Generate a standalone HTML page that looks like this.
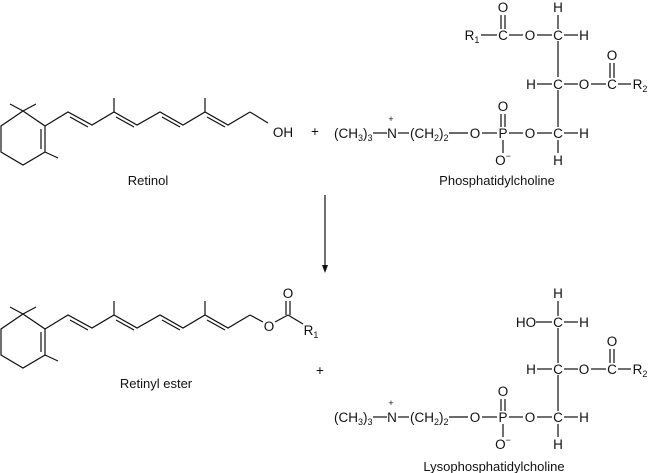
<!DOCTYPE html>
<html><head><meta charset="utf-8"><style>
html,body{margin:0;padding:0;background:#fff;}
svg{display:block;}
text{font-family:"Liberation Sans",sans-serif;fill:#111;}
.a{font-size:13.5px;text-anchor:middle;}
.s{font-size:13.5px;}
.l{font-size:13px;text-anchor:middle;}
line,polyline,polygon{stroke:#111;stroke-width:1.2;fill:none;}
</style></head><body>
<svg width="650" height="473" viewBox="0 0 650 473" xmlns="http://www.w3.org/2000/svg">
<defs>
<g id="ret">
<polygon points="23,111 45,126 45,152 23,165 1,152 1,126"/>
<line x1="23" y1="111" x2="10" y2="104"/><line x1="23" y1="111" x2="36" y2="104"/>
<line x1="45" y1="152" x2="58" y2="158"/>
<line x1="41" y1="129" x2="41" y2="149"/>
<polyline points="45,126 68,112 92,125 114,112 137,125 160,112 183,125 205,112 228,125 250,112"/>
<line x1="114" y1="112" x2="114" y2="98"/><line x1="205" y1="112" x2="205" y2="98"/>
<line x1="70" y1="117" x2="88" y2="127"/>
<line x1="116" y1="117" x2="134" y2="127"/>
<line x1="162" y1="117" x2="180" y2="127"/>
<line x1="207" y1="117" x2="225" y2="127"/>
</g>
<g id="chol">
<text class="s" x="334" y="5">(CH<tspan font-size="9" dy="3">3</tspan><tspan dy="-3">)</tspan><tspan font-size="9" dy="3">3</tspan></text>
<line x1="373" y1="0" x2="387" y2="0"/>
<text class="a" x="392" y="5">N</text>
<text x="391" y="-11" style="font-size:9px;text-anchor:middle">+</text>
<line x1="398" y1="0" x2="409" y2="0"/>
<text class="s" x="410" y="5">(CH<tspan font-size="9" dy="3">2</tspan><tspan dy="-3">)</tspan><tspan font-size="9" dy="3">2</tspan></text>
<line x1="449" y1="0" x2="468" y2="0"/>
<text class="a" x="475" y="5">O</text>
<line x1="482" y1="0" x2="497" y2="0"/>
<text class="a" x="503" y="5">P</text>
<line x1="503" y1="7" x2="503" y2="20"/>
<text class="a" x="503" y="32">O<tspan font-size="9" dy="-6">−</tspan></text>
<line x1="509" y1="0" x2="523" y2="0"/>
<text class="a" x="530" y="5">O</text>
<line x1="537" y1="0" x2="552" y2="0"/>
<text class="a" x="558" y="5">C</text>
<line x1="564" y1="0" x2="578" y2="0"/>
<text class="a" x="584" y="5">H</text>
<line x1="558" y1="7" x2="558" y2="20"/>
<text class="a" x="558" y="32">H</text>
</g>
</defs>
<!-- Retinol -->
<use href="#ret"/>
<line x1="250" y1="112" x2="268" y2="123"/>
<text class="a" x="283" y="137">OH</text>
<text class="a" x="315" y="136">+</text>
<text class="l" x="148" y="185">Retinol</text>

<!-- Phosphatidylcholine -->
<text class="a" x="472" y="40">R<tspan font-size="9" dy="3">1</tspan></text>
<line x1="481" y1="35" x2="497" y2="35"/>
<text class="a" x="503" y="40">C</text>
<text class="a" x="503" y="12">O</text>
<line x1="501" y1="15" x2="501" y2="29"/><line x1="505" y1="15" x2="505" y2="29"/>
<line x1="509" y1="35" x2="523" y2="35"/>
<text class="a" x="530" y="40">O</text>
<line x1="537" y1="35" x2="552" y2="35"/>
<text class="a" x="558" y="40">C</text>
<text class="a" x="558" y="12">H</text>
<line x1="558" y1="15" x2="558" y2="29"/>
<line x1="564" y1="35" x2="578" y2="35"/>
<text class="a" x="584" y="40">H</text>
<line x1="558" y1="41" x2="558" y2="77"/>
<text class="a" x="531" y="89">H</text>
<line x1="537" y1="84" x2="552" y2="84"/>
<text class="a" x="558" y="89">C</text>
<line x1="564" y1="84" x2="578" y2="84"/>
<text class="a" x="584" y="89">O</text>
<line x1="591" y1="84" x2="606" y2="84"/>
<text class="a" x="612" y="89">C</text>
<text class="a" x="612" y="60">O</text>
<line x1="610" y1="63" x2="610" y2="78"/><line x1="614" y1="63" x2="614" y2="78"/>
<line x1="618" y1="84" x2="631" y2="84"/>
<text class="a" x="640" y="89">R<tspan font-size="9" dy="3">2</tspan></text>
<line x1="558" y1="90" x2="558" y2="127"/>
<text class="a" x="503" y="111">O</text>
<line x1="501" y1="114" x2="501" y2="127"/><line x1="505" y1="114" x2="505" y2="127"/>
<g transform="translate(0,133)"><use href="#chol"/></g>
<text class="l" x="497" y="185">Phosphatidylcholine</text>

<!-- Arrow -->
<line x1="325" y1="195" x2="325" y2="266"/>
<polygon points="322,265 328,265 325,273" style="fill:#111;stroke:none"/>

<!-- Retinyl ester -->
<use href="#ret" transform="translate(0,203)"/>
<line x1="250" y1="315" x2="263" y2="322"/>
<text class="a" x="269" y="331">O</text>
<line x1="275" y1="322" x2="288" y2="315"/>
<line x1="288" y1="315" x2="303" y2="324"/>
<line x1="286" y1="315" x2="286" y2="301"/><line x1="290" y1="315" x2="290" y2="301"/>
<text class="a" x="288" y="298">O</text>
<text class="a" x="311" y="335">R<tspan font-size="9" dy="3">1</tspan></text>
<text class="a" x="320" y="375">+</text>
<text class="l" x="156" y="388">Retinyl ester</text>

<!-- Lysophosphatidylcholine -->
<text class="a" x="558" y="298">H</text>
<line x1="558" y1="301" x2="558" y2="316"/>
<text class="a" x="526" y="327">HO</text>
<line x1="536" y1="322" x2="552" y2="322"/>
<text class="a" x="558" y="327">C</text>
<line x1="564" y1="322" x2="578" y2="322"/>
<text class="a" x="584" y="327">H</text>
<line x1="558" y1="328" x2="558" y2="363"/>
<text class="a" x="531" y="374">H</text>
<line x1="537" y1="369" x2="552" y2="369"/>
<text class="a" x="558" y="374">C</text>
<line x1="564" y1="369" x2="578" y2="369"/>
<text class="a" x="584" y="374">O</text>
<line x1="591" y1="369" x2="606" y2="369"/>
<text class="a" x="612" y="374">C</text>
<text class="a" x="612" y="346">O</text>
<line x1="610" y1="349" x2="610" y2="363"/><line x1="614" y1="349" x2="614" y2="363"/>
<line x1="618" y1="369" x2="631" y2="369"/>
<text class="a" x="640" y="374">R<tspan font-size="9" dy="3">2</tspan></text>
<line x1="558" y1="375" x2="558" y2="411"/>
<text class="a" x="503" y="396">O</text>
<line x1="501" y1="399" x2="501" y2="411"/><line x1="505" y1="399" x2="505" y2="411"/>
<g transform="translate(0,417)"><use href="#chol"/></g>
<text class="l" x="494" y="471">Lysophosphatidylcholine</text>
</svg>
</body></html>
